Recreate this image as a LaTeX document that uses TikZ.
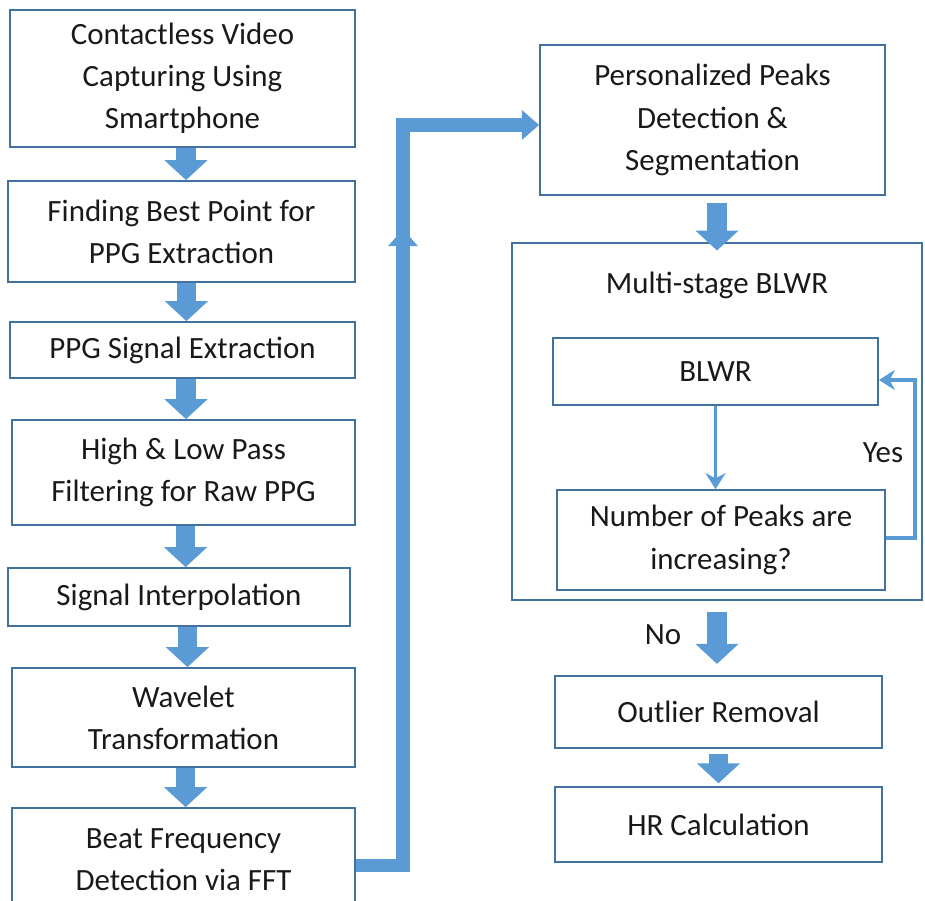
\documentclass[tikz,border=0pt]{standalone}
\usepackage{fontspec}
\setmainfont{Carlito}
\usetikzlibrary{arrows.meta, positioning}
\definecolor{boxblue}{RGB}{65,113,156}
\definecolor{arrblue}{RGB}{91,155,213}

\begin{document}
\begin{tikzpicture}[x=0.025cm, y=-0.025cm, font=\fontsize{22}{30}\selectfont]
	\tikzstyle{box} = [draw=boxblue, line width=1.2pt, rectangle, align=center, inner sep=0pt, text=black!90]
	\tikzstyle{block} = [arrblue, line width=14pt, -{Triangle[length=0.5cm, width=1.05cm]}]
	\tikzstyle{long} = [arrblue, line width=9.5pt, -{Triangle[length=0.43cm, width=0.72cm]}]
	\tikzstyle{thin} = [arrblue, line width=2.2pt, -{Stealth[length=0.4cm, width=0.5cm]}]
	
	\useasboundingbox (0,0) rectangle (925,900);
	
	% left column
	\node[box, minimum width=8.625cm, minimum height=3.425cm]	at (182.5, 78.5)	(capture)	{Contactless Video\\Capturing Using\\Smartphone};
	\node[box, minimum width=8.675cm, minimum height=2.525cm]	at (181.5, 231.5)	(bestpt)	{Finding Best Point for\\PPG Extraction};
	\node[box, minimum width=8.625cm, minimum height=1.4cm]	at (182.5, 350)	(extract)	{PPG Signal Extraction};
	\node[box, minimum width=8.575cm, minimum height=2.625cm]	at (183.5, 472.5)	(filter)	{High \& Low Pass\\Filtering for Raw PPG};
	\node[box, minimum width=8.55cm, minimum height=1.45cm]	at (179, 597)	(interp)	{Signal Interpolation};
	\node[box, minimum width=8.575cm, minimum height=2.475cm]	at (183.5, 717.5)	(wavelet)	{Wavelet\\Transformation};
	\node[box, minimum width=8.575cm, minimum height=2.6cm]	at (183.5, 860)	(fft)		{Beat Frequency\\Detection via FFT};
	
	% right column
	\node[box, minimum width=8.625cm, minimum height=3.75cm]	at (712.5, 120)	(peaks)		{Personalized Peaks\\Detection \&\\Segmentation};
	\node[box, minimum width=10.25cm, minimum height=8.925cm]	at (717, 421.5)	(multi)		{};
	\node[text=black!90]								at (717, 285)		(multititle)	{Multi-stage BLWR};
	\node[box, minimum width=8.125cm, minimum height=1.675cm]	at (715.5, 371.5)	(blwr)		{BLWR};
	\node[box, minimum width=8.2cm, minimum height=2.5cm]		at (721, 540)		(check)		{Number of Peaks are\\increasing?};
	\node[box, minimum width=8.175cm, minimum height=1.8cm]	at (718.5, 712)	(outlier)	{Outlier Removal};
	\node[box, minimum width=8.175cm, minimum height=1.875cm]	at (718.5, 824.5)	(hr)		{HR Calculation};
	
	\coordinate (up) at (403, 125);
	\coordinate (tip) at (403, 229);
	\coordinate (loop) at (915, 380);
	
	\draw [block] ([xshift=2.5]capture.south) -- ([xshift=2.5]capture.south |- bestpt.north);
	\draw [block] ([xshift=3.5]bestpt.south) -- ([xshift=3.5]bestpt.south |- extract.north);
	\draw [block] ([xshift=2.5]extract.south) -- ([xshift=2.5]extract.south |- filter.north);
	\draw [block] ([xshift=1.5]filter.south) -- ([xshift=1.5]filter.south |- interp.north);
	\draw [block] ([xshift=6]interp.south) -- ([xshift=6]interp.south |- wavelet.north);
	\draw [block] ([xshift=1.5]wavelet.south) -- ([xshift=1.5]wavelet.south |- fft.north);
	
	\draw [long] ([yshift=-4]fft.east) -| (up) -- (up -| peaks.west);
	\draw [long] (tip |- 0,864) -- (tip);
	
	\draw [block] ([yshift=-5]peaks.south -| multi) -- ([yshift=-6]multi.north);
	\draw [block] ([yshift=-8]multi.south) -- ([yshift=8]multi.south |- outlier.north);
	\draw [block] ([yshift=-4]outlier.south) -- ([yshift=2]outlier.south |- hr.north);
	
	\draw [thin] (blwr.south) -- (blwr.south |- check.north);
	\draw [thin] (check.east |- 0,538) -| (loop) -- (loop -| blwr.east);
	
	\node[text=black!90] at (883, 453) (yes) {Yes};
	\node[text=black!90] at (663, 635) (no) {No};
\end{tikzpicture}
\end{document}
